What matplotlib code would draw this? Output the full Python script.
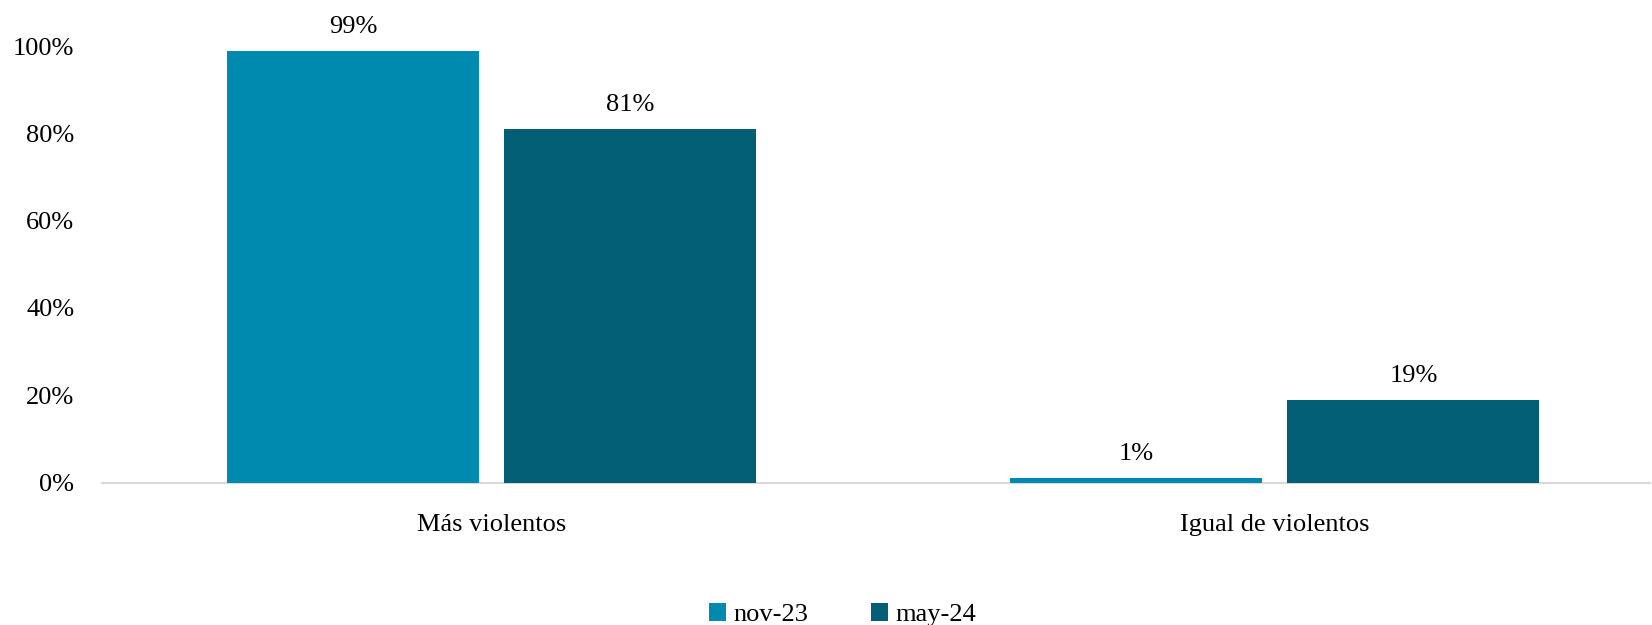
import numpy as np
import matplotlib
matplotlib.use("Agg")
import matplotlib.pyplot as plt
from matplotlib.ticker import PercentFormatter

plt.rcParams['font.family'] = ['Liberation Serif', 'DejaVu Serif']

categories = ["Más violentos", "Igual de violentos"]
series = ["nov-23", "may-24"]
nov23 = [0.99, 0.01]
may24 = [0.81, 0.19]
colors = ["#008AAF", "#025E74"]

fig = plt.figure(figsize=(16.52, 6.25), dpi=100)
ax = fig.add_axes([0.0617, 0.228, 0.937, 0.698])

x = np.arange(len(categories))
w = 0.322
off = 0.177
for vals, dx, c, lab in [(nov23, -off, colors[0], series[0]), (may24, off, colors[1], series[1])]:
    bars = ax.bar(x + dx, vals, w, color=c, label=lab, zorder=3)
    for b, v in zip(bars, vals):
        ax.text(b.get_x() + b.get_width() / 2, v + 0.03, f"{v:.0%}",
                ha="center", va="bottom", fontsize=19, clip_on=False)

ax.set_xlim(-0.498, 1.479)
ax.set_ylim(0, 1.0)
ax.set_yticks([0, 0.2, 0.4, 0.6, 0.8, 1.0])
ax.yaxis.set_major_formatter(PercentFormatter(1.0, decimals=0))
ax.set_xticks(x)
ax.set_xticklabels(categories)
ax.tick_params(axis="both", length=0, labelsize=19)
ax.tick_params(axis="x", pad=23)
ax.tick_params(axis="y", pad=20)
for s in ["top", "right", "left"]:
    ax.spines[s].set_visible(False)
ax.spines["bottom"].set_color("#D9D9D9")
ax.spines["bottom"].set_linewidth(1.5)

fig.legend(loc="lower center", bbox_to_anchor=(0.51, -0.04), ncol=2, frameon=False,
           fontsize=19, handlelength=0.65, handleheight=0.65, columnspacing=2.4,
           handletextpad=0.25)

fig.savefig("out.png", dpi=100)
